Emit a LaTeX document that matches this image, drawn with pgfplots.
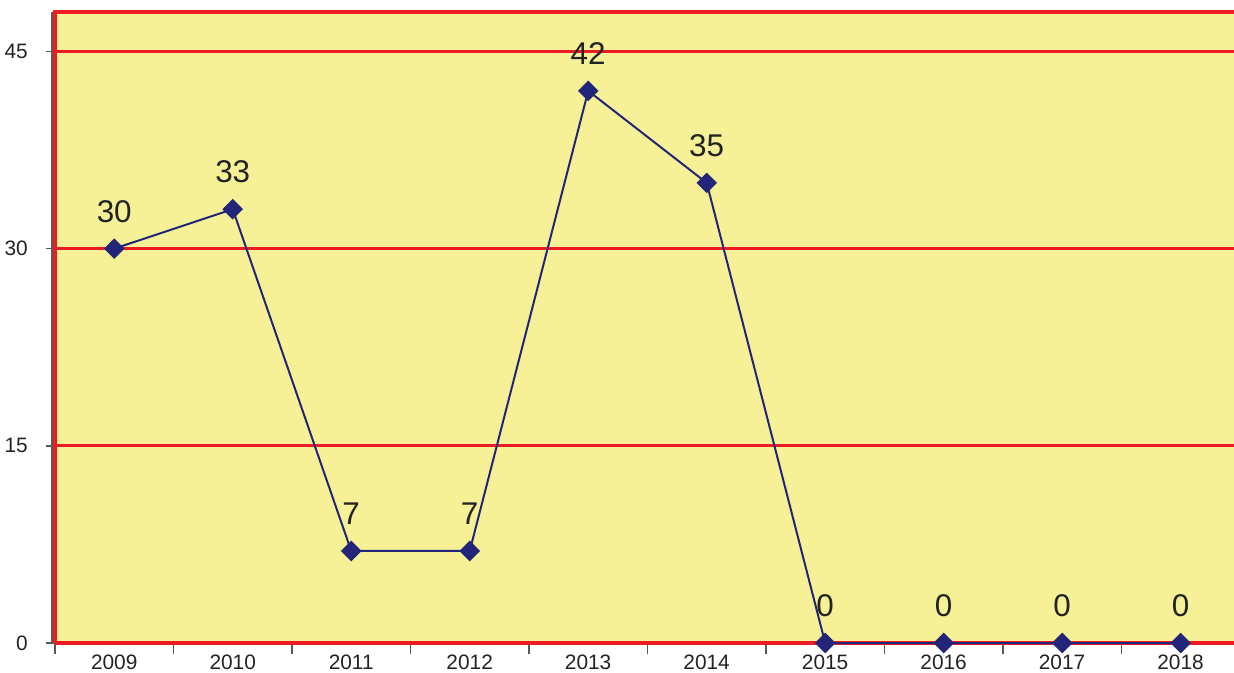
\documentclass[border=0pt]{standalone}
\usepackage{fontspec}
\setmainfont{Liberation Sans}
\usepackage{pgfplots}
\pgfplotsset{compat=1.18}
\definecolor{bgyel}{RGB}{246,241,150}
\definecolor{frred}{RGB}{237,28,36}
\definecolor{navy}{RGB}{35,38,120}
\definecolor{txt}{RGB}{35,35,35}
\begin{document}
\begin{tikzpicture}
  \begin{axis}[
      name=main,
      scale only axis,
      width=412.65pt, height=220.85pt,
      xmin=2008.5, xmax=2018.45,
      ymin=0, ymax=48,
      axis line style={draw=none},
      axis background/.style={fill=bgyel},
      xtick={2009,...,2018},
      xticklabels={2009,2010,2011,2012,2013,2014,2015,2016,2017,2018},
      major x tick style={draw=none},
      minor xtick={2008.5,2009.5,...,2017.5},
      minor tick length=4pt,
      ytick={0,15,30,45},
      major tick length=3pt,
      tick align=outside,
      xtick pos=bottom, ytick pos=left,
      tick style={gray!70!black, line width=0.5pt},
      ymajorgrids=true,
      grid style={frred, line width=1pt},
      ticklabel style={font=\fontsize{7.3pt}{8pt}\selectfont, text=txt},
      /pgf/number format/assume math mode=true,
      xticklabel style={yshift=2.5pt},
      yticklabel style={xshift=-3pt},
      clip=false,
    ]
    \draw[gray!70!black, line width=0.5pt] ([xshift=-1pt]rel axis cs:0,0) -- ([xshift=-1pt]rel axis cs:0,1);
    \draw[frred, line width=1.6pt] (rel axis cs:0,0) -- (rel axis cs:0,1) -- (rel axis cs:1,1);
    \draw[frred, line width=1.6pt] (rel axis cs:0,0) -- (rel axis cs:1,0);
    \addplot[navy, line width=0.7pt, mark=square*, mark size=2.2pt,
      mark options={fill=navy, draw=navy, rotate=45},
      nodes near coords,
      every node near coord/.append style={anchor=center, yshift=13pt,
        font=\fontsize{11pt}{12pt}\selectfont, text=txt}]
      coordinates {
        (2009,30) (2010,33) (2011,7) (2012,7) (2013,42)
        (2014,35) (2015,0) (2016,0) (2017,0) (2018,0)
      };
  \end{axis}
  \pgfresetboundingbox
  \path[use as bounding box] ([xshift=-19.25pt, yshift=-10.15pt]main.south west) rectangle ([yshift=4.2pt]main.north east);
\end{tikzpicture}
\end{document}
